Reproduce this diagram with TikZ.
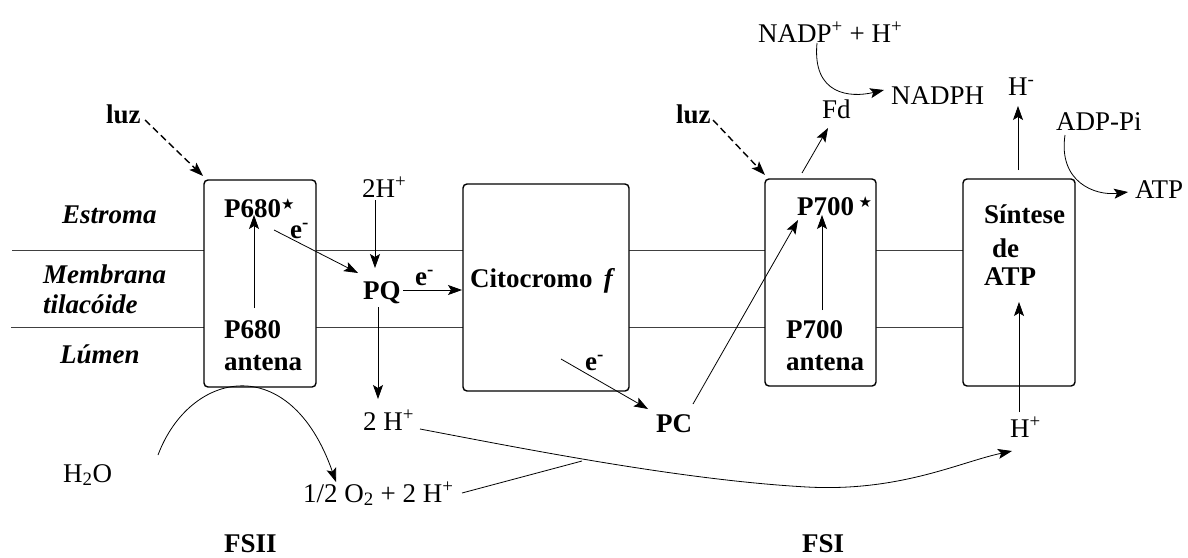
\documentclass[tikz,border=0pt]{standalone}
\usepackage{fontspec}
\setmainfont{Liberation Serif}
\newfontfamily\symf{DejaVu Sans}
\usetikzlibrary{arrows.meta}
\newcommand{\pstar}{\raisebox{8pt}{\fontsize{15}{15}\selectfont\symf ★}}
\begin{document}
\begin{tikzpicture}[x=1pt,y=-1pt,
  txt/.style={anchor=base west, inner sep=0pt, font=\fontsize{27}{32}\selectfont},
  btxt/.style={anchor=base west, inner sep=0pt, font=\fontsize{27}{32}\selectfont\bfseries},
  bitxt/.style={anchor=base west, inner sep=0pt, font=\fontsize{27}{32}\selectfont\bfseries\itshape},
  psbox/.style={draw, line width=1.4pt, rounded corners=4pt, fill=white},
  memb/.style={draw=black!75, line width=0.8pt},
  arr/.style={line width=0.8pt, -{Stealth[length=14pt,width=10pt,inset=3pt]}},
  larr/.style={line width=1.4pt, dash pattern=on 7pt off 4pt, -{Stealth[length=14pt,width=10pt,inset=3pt]}},
  crv/.style={line width=0.8pt}
]
\path[fill=white] (0,0) rectangle (1188,557);
\useasboundingbox (0,0) rectangle (1188,557);

% membrane lines
\coordinate (mL1) at (12,250); \coordinate (mR1) at (963,250);
\coordinate (mL2) at (11,327); \coordinate (mR2) at (963,327);
\draw[memb] (mL1) -- (mR1);
\draw[memb] (mL2) -- (mR2);

% boxes
\draw[psbox] (204,180) rectangle (316,387);
\draw[psbox] (463,184) rectangle (629,391);
\draw[psbox] (765,179) rectangle (876,386);
\draw[psbox] (963,179) rectangle (1075,386);

% side labels
\node[bitxt] (estroma) at (62,223) {Estroma};
\node[bitxt] (membrana) at (43,283) {Membrana};
\node[bitxt] (tilac) at (43,313) {tilacóide};
\node[bitxt] (lumen) at (60,363) {Lúmen};

% FSII
\node[btxt] (luz1) at (106,123) {luz};
\node[btxt] (p680s) at (224,217) {P680\pstar};
\node[btxt] (p680) at (224,338) {P680};
\node[btxt] (ant1) at (224,370) {antena};
\node[btxt] (e1) at (290,238) {e\textsuperscript{-}};
\node[btxt] (pq) at (363,299) {PQ};
\node[txt] (h2top) at (362,197) {2H\textsuperscript{+}};
\node[btxt] (e2) at (415,285) {e\textsuperscript{-}};
\node[btxt] (cito) at (470,287) {Citocromo\, \textit{f}};
\node[btxt] (e3) at (585,370) {e\textsuperscript{-}};
\node[btxt] (pc) at (656,432) {PC};
\node[txt] (h2low) at (363,430) {2 H\textsuperscript{+}};
\node[txt] (h2o) at (63,482) {H\textsubscript{2}O};
\node[txt] (o2) at (303,502) {1/2 O\textsubscript{2} + 2 H\textsuperscript{+}};
\node[btxt] (fsii) at (224,552) {FSII};

% FSI
\node[btxt] (luz2) at (676,123) {luz};
\node[btxt] (p700s) at (797,215) {P700\,\pstar};
\node[btxt] (p700) at (786,338) {P700};
\node[btxt] (ant2) at (786,370) {antena};
\node[txt] (nadp) at (758,42) {NADP\textsuperscript{+} + H\textsuperscript{+}};
\node[txt] (nadph) at (891,104) {NADPH};
\node[txt] (fd) at (822,118) {Fd};
\node[btxt] (fsi) at (802,552) {FSI};

% ATP synthase
\node[btxt] (sint) at (984,223) {Síntese};
\node[btxt] (de) at (992,257) {de};
\node[btxt] (atpb) at (984,285) {ATP};
\node[txt] (hminus) at (1008,95) {H\textsuperscript{-}};
\node[txt] (adp) at (1056,130) {ADP-Pi};
\node[txt] (atp) at (1135,198) {ATP};
\node[txt] (hplus) at (1010,437) {H\textsuperscript{+}};

% connector end points
\coordinate (luz1e) at (145,120); \coordinate (b1tl) at (203,176);
\coordinate (v1a) at (254,308); \coordinate (v1b) at (254,215);
\coordinate (e1a) at (274,230); \coordinate (pqa) at (358,273);
\coordinate (h2a) at (375,200); \coordinate (h2b) at (375,268);
\coordinate (pqr) at (403,290); \coordinate (citl) at (462,290);
\coordinate (pqd) at (378,307); \coordinate (h2lt) at (378,399);
\coordinate (e3a) at (561,359); \coordinate (pcin) at (648,409);
\coordinate (pcout) at (693,404); \coordinate (p7in) at (798,220);
\coordinate (luz2e) at (713,120); \coordinate (b3tl) at (765,175);
\coordinate (b3t) at (802,173); \coordinate (fdin) at (828,128);
\coordinate (v3a) at (822,310); \coordinate (v3b) at (822,215);
\coordinate (nadpo) at (817,43); \coordinate (nadphin) at (884,90);
\coordinate (s4t) at (1018,170); \coordinate (hmin) at (1018,106);
\coordinate (adpo) at (1065,135); \coordinate (atpin) at (1128,192);
\coordinate (hpo) at (1019,412); \coordinate (hpin) at (1019,302);
\coordinate (h2os) at (158,455); \coordinate (o2in) at (336,482);
\coordinate (h2ls) at (420,429); \coordinate (mid) at (807,487); \coordinate (hpl) at (1012,451);
\coordinate (o2s) at (462,493); \coordinate (join) at (582,461);

% connectors
\draw[larr] (luz1e) -- (b1tl);
\draw[larr] (luz2e) -- (b3tl);
\draw[arr] (v1a) -- (v1b);
\draw[arr] (e1a) -- (pqa);
\draw[arr] (h2a) -- (h2b);
\draw[arr] (pqr) -- (citl);
\draw[arr] (pqd) -- (h2lt);
\draw[arr] (e3a) -- (pcin);
\draw[arr] (pcout) -- (p7in);
\draw[arr] (b3t) -- (fdin);
\draw[arr] (v3a) -- (v3b);
\draw[arr] (s4t) -- (hmin);
\draw[arr] (hpo) -- (hpin);
\draw[arr] (nadpo) .. controls (812,95) and (850,98) .. (nadphin);
\draw[arr] (adpo) .. controls (1058,182) and (1095,196) .. (atpin);
\draw[arr] (h2os) .. controls (190,370) and (290,350) .. (o2in);
\draw[arr] (h2ls) .. controls (520,448) and (680,480) .. (mid) .. controls (900,492) and (960,462) .. (hpl);
\draw[crv] (o2s) -- (join);
\end{tikzpicture}
\end{document}
